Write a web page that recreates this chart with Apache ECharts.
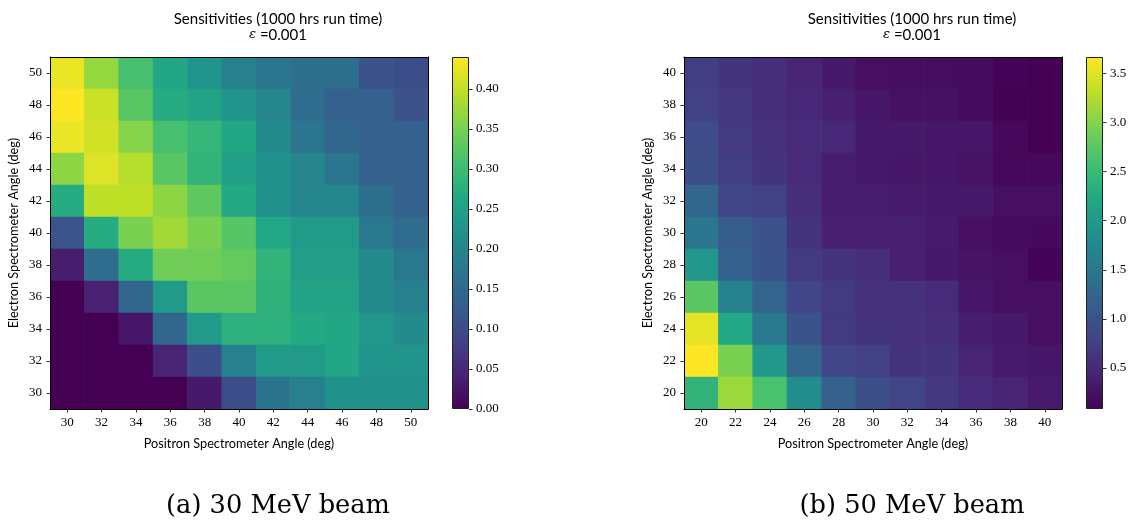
<!DOCTYPE html>
<html>
<head>
<meta charset="utf-8">
<script src="https://cdn.jsdelivr.net/npm/echarts@6/dist/echarts.min.js"></script>
<style>
  html, body { margin: 0; padding: 0; background: #fff; }
  #chart { width: 1135px; height: 523px; }
</style>
</head>
<body>
<div id="chart"></div>
<script>
// Spectrometer angle categories (deg)
const angles30 = ['30', '32', '34', '36', '38', '40', '42', '44', '46', '48', '50'];
const angles50 = ['20', '22', '24', '26', '28', '30', '32', '34', '36', '38', '40'];

// 30 MeV beam sensitivities. Rows: electron angle from 50 down to 30; columns: positron angle 30..50
const sens30 = [
  [0.427, 0.370, 0.310, 0.260, 0.225, 0.190, 0.170, 0.160, 0.160, 0.110, 0.105],
  [0.440, 0.405, 0.325, 0.270, 0.255, 0.228, 0.200, 0.155, 0.135, 0.135, 0.110],
  [0.427, 0.410, 0.360, 0.310, 0.290, 0.263, 0.210, 0.170, 0.145, 0.135, 0.135],
  [0.365, 0.418, 0.390, 0.325, 0.285, 0.248, 0.220, 0.198, 0.172, 0.135, 0.135],
  [0.270, 0.396, 0.396, 0.365, 0.330, 0.265, 0.220, 0.200, 0.200, 0.160, 0.135],
  [0.115, 0.270, 0.352, 0.378, 0.352, 0.322, 0.264, 0.240, 0.240, 0.176, 0.154],
  [0.035, 0.154, 0.270, 0.343, 0.343, 0.334, 0.286, 0.243, 0.243, 0.210, 0.176],
  [0.000, 0.040, 0.145, 0.238, 0.326, 0.326, 0.282, 0.255, 0.255, 0.210, 0.190],
  [0.000, 0.000, 0.026, 0.145, 0.238, 0.280, 0.280, 0.265, 0.262, 0.230, 0.210],
  [0.000, 0.000, 0.000, 0.044, 0.105, 0.190, 0.240, 0.240, 0.260, 0.228, 0.228],
  [0.000, 0.000, 0.000, 0.000, 0.030, 0.105, 0.167, 0.190, 0.220, 0.220, 0.220]
];

// 50 MeV beam sensitivities. Rows: electron angle from 40 down to 20; columns: positron angle 20..40
const sens50 = [
  [0.73, 0.62, 0.55, 0.44, 0.33, 0.22, 0.21, 0.20, 0.18, 0.10, 0.08],
  [0.76, 0.66, 0.55, 0.47, 0.40, 0.30, 0.24, 0.24, 0.19, 0.09, 0.08],
  [0.90, 0.69, 0.58, 0.51, 0.47, 0.33, 0.33, 0.30, 0.30, 0.15, 0.08],
  [0.94, 0.73, 0.62, 0.51, 0.37, 0.33, 0.30, 0.30, 0.26, 0.15, 0.15],
  [1.26, 0.80, 0.76, 0.55, 0.37, 0.37, 0.34, 0.33, 0.33, 0.22, 0.22],
  [1.48, 1.12, 0.98, 0.62, 0.40, 0.40, 0.40, 0.34, 0.22, 0.18, 0.17],
  [1.95, 1.20, 1.00, 0.69, 0.62, 0.55, 0.40, 0.33, 0.26, 0.22, 0.12],
  [2.74, 1.66, 1.23, 0.83, 0.69, 0.58, 0.58, 0.51, 0.30, 0.22, 0.22],
  [3.53, 2.23, 1.52, 1.01, 0.69, 0.62, 0.58, 0.55, 0.37, 0.33, 0.22],
  [3.67, 2.95, 1.98, 1.26, 0.83, 0.76, 0.62, 0.62, 0.44, 0.34, 0.30],
  [2.41, 3.13, 2.63, 1.80, 1.20, 0.94, 0.80, 0.66, 0.51, 0.44, 0.34]
];

// Colour bar tick labels
const ticks30 = [0.00, 0.05, 0.10, 0.15, 0.20, 0.25, 0.30, 0.35, 0.40];
const ticks50 = [0.5, 1.0, 1.5, 2.0, 2.5, 3.0, 3.5];

const titleText = 'Sensitivities (1000 hrs run time)';
const epsText = '=0.001';
const xName = 'Positron Spectrometer Angle (deg)';
const yName = 'Electron Spectrometer Angle (deg)';
const captions = ['(a) 30 MeV beam', '(b) 50 MeV beam'];

// viridis colormap stops
const VIRIDIS = ['#440154', '#482475', '#414487', '#355f8d', '#2a788e', '#21918c',
                 '#22a884', '#44bf70', '#7ad151', '#bddf26', '#fde725'];

function toCells(rows) {
  const n = rows.length;
  const out = [];
  rows.forEach((row, r) => {
    row.forEach((v, c) => out.push([c, n - 1 - r, v]));
  });
  return out;
}
function extent(rows) {
  const flat = rows.flat();
  return [Math.min(...flat), Math.max(...flat)];
}
const ext30 = extent(sens30);
const ext50 = extent(sens50);

const SERIF = 'Liberation Serif';
const SANS = 'Lato';
const tickLabel = { fontFamily: SERIF, fontSize: 13, color: '#000' };

function heatAxes(cats, gridIndex) {
  const line = { show: true, lineStyle: { color: '#000', width: 1 } };
  const tick = { show: true, alignWithLabel: true, length: 3.5, lineStyle: { color: '#000', width: 0.8 } };
  return {
    x: [
      { type: 'category', gridIndex, data: cats, position: 'bottom', z: 5,
        axisLine: line, axisTick: tick,
        axisLabel: Object.assign({ margin: 7 }, tickLabel),
        splitLine: { show: false },
        name: xName, nameLocation: 'middle', nameGap: 28,
        nameTextStyle: { fontFamily: SANS, fontSize: 12.7, color: '#000' } },
      { type: 'category', gridIndex, data: cats, position: 'top', z: 5,
        axisLine: line, axisTick: { show: false }, axisLabel: { show: false }, splitLine: { show: false } }
    ],
    y: [
      { type: 'category', gridIndex, data: cats, position: 'left', z: 5,
        axisLine: line, axisTick: tick,
        axisLabel: Object.assign({ margin: 8 }, tickLabel),
        splitLine: { show: false },
        name: yName, nameLocation: 'middle', nameGap: 30,
        nameTextStyle: { fontFamily: SANS, fontSize: 12.7, color: '#000' } },
      { type: 'category', gridIndex, data: cats, position: 'right', z: 5,
        axisLine: line, axisTick: { show: false }, axisLabel: { show: false }, splitLine: { show: false } }
    ]
  };
}

function barAxes(ext, ticks, digits, gridIndex) {
  return {
    x: { type: 'category', gridIndex, data: ['cb'], show: false },
    y: { type: 'value', gridIndex, position: 'right', min: ext[0], max: ext[1], z: 5,
         axisLine: { show: false },
         axisTick: { show: true, length: 3.5, customValues: ticks, lineStyle: { color: '#000', width: 0.8 } },
         axisLabel: Object.assign({ margin: 7, customValues: ticks,
                                    formatter: v => v.toFixed(digits) }, tickLabel),
         splitLine: { show: false } }
  };
}

const gradStops = VIRIDIS.map((c, i) => ({ offset: i / (VIRIDIS.length - 1), color: c }));

const a30 = heatAxes(angles30, 0);
const b30 = barAxes(ext30, ticks30, 2, 1);
const a50 = heatAxes(angles50, 2);
const b50 = barAxes(ext50, ticks50, 1, 3);

// One filled cell per data item, sized from the category band so neighbours meet without seams
function renderCell(params, api) {
  const p = api.coord([api.value(0), api.value(1)]);
  const s = api.size([1, 1]);
  return {
    type: 'rect',
    shape: { x: p[0] - s[0] / 2 - 0.3, y: p[1] - s[1] / 2 - 0.3, width: s[0] + 0.6, height: s[1] + 0.6 },
    style: { fill: api.visual('color') }
  };
}
function heatSeries(rows, axisIdx) {
  return { type: 'custom', xAxisIndex: axisIdx, yAxisIndex: axisIdx, data: toCells(rows),
           encode: { x: 0, y: 1 }, renderItem: renderCell, clip: true, silent: true };
}

function colorBarSeries(ext, axisIdx, stackName) {
  return [
    { type: 'bar', xAxisIndex: axisIdx, yAxisIndex: axisIdx, stack: stackName,
      data: [ext[0]], barWidth: '100%', itemStyle: { color: 'transparent' },
      silent: true, clip: false },
    { type: 'bar', xAxisIndex: axisIdx, yAxisIndex: axisIdx, stack: stackName,
      data: [ext[1] - ext[0]], barWidth: '100%', silent: true, clip: false,
      itemStyle: { color: new echarts.graphic.LinearGradient(0, 1, 0, 0, gradStops),
                   borderColor: '#222', borderWidth: 1 } }
  ];
}

const titleRich = { e: { fontFamily: 'DejaVu Serif', fontStyle: 'italic', fontSize: 13, color: '#000' } };
function plotTitle(cx) {
  return { text: titleText + '\n{e|\u03b5} ' + epsText, left: cx, top: 11, padding: 0,
           textAlign: 'center',
           textStyle: { fontFamily: SANS, fontSize: 15, fontWeight: 'normal', color: '#000',
                        lineHeight: 16, rich: titleRich } };
}
function caption(text, cx) {
  return { text, left: cx, top: 493, padding: 0, textAlign: 'center',
           textStyle: { fontFamily: 'DejaVu Serif', fontSize: 25.7, fontWeight: 'normal', color: '#000' } };
}

const option = {
  animation: false,
  backgroundColor: '#fff',
  title: [plotTitle(278), plotTitle(912), caption(captions[0], 278), caption(captions[1], 912)],
  grid: [
    { left: 50, top: 57, width: 378, height: 352 },
    { left: 452, top: 57, width: 17, height: 352 },
    { left: 684, top: 57, width: 378, height: 352 },
    { left: 1086, top: 57, width: 17, height: 352 }
  ],
  xAxis: [a30.x[0], a30.x[1], b30.x, a50.x[0], a50.x[1], b50.x],
  yAxis: [a30.y[0], a30.y[1], b30.y, a50.y[0], a50.y[1], b50.y],
  visualMap: [
    { type: 'continuous', show: false, seriesIndex: 0, dimension: 2, min: ext30[0], max: ext30[1],
      inRange: { color: VIRIDIS } },
    { type: 'continuous', show: false, seriesIndex: 3, dimension: 2, min: ext50[0], max: ext50[1],
      inRange: { color: VIRIDIS } }
  ],
  series: [
    heatSeries(sens30, 0),
    ...colorBarSeries(ext30, 2, 'cb30'),
    heatSeries(sens50, 3),
    ...colorBarSeries(ext50, 5, 'cb50')
  ]
};

const chart = echarts.init(document.getElementById('chart'), null, { renderer: 'canvas' });
chart.setOption(option);
</script>
</body>
</html>
